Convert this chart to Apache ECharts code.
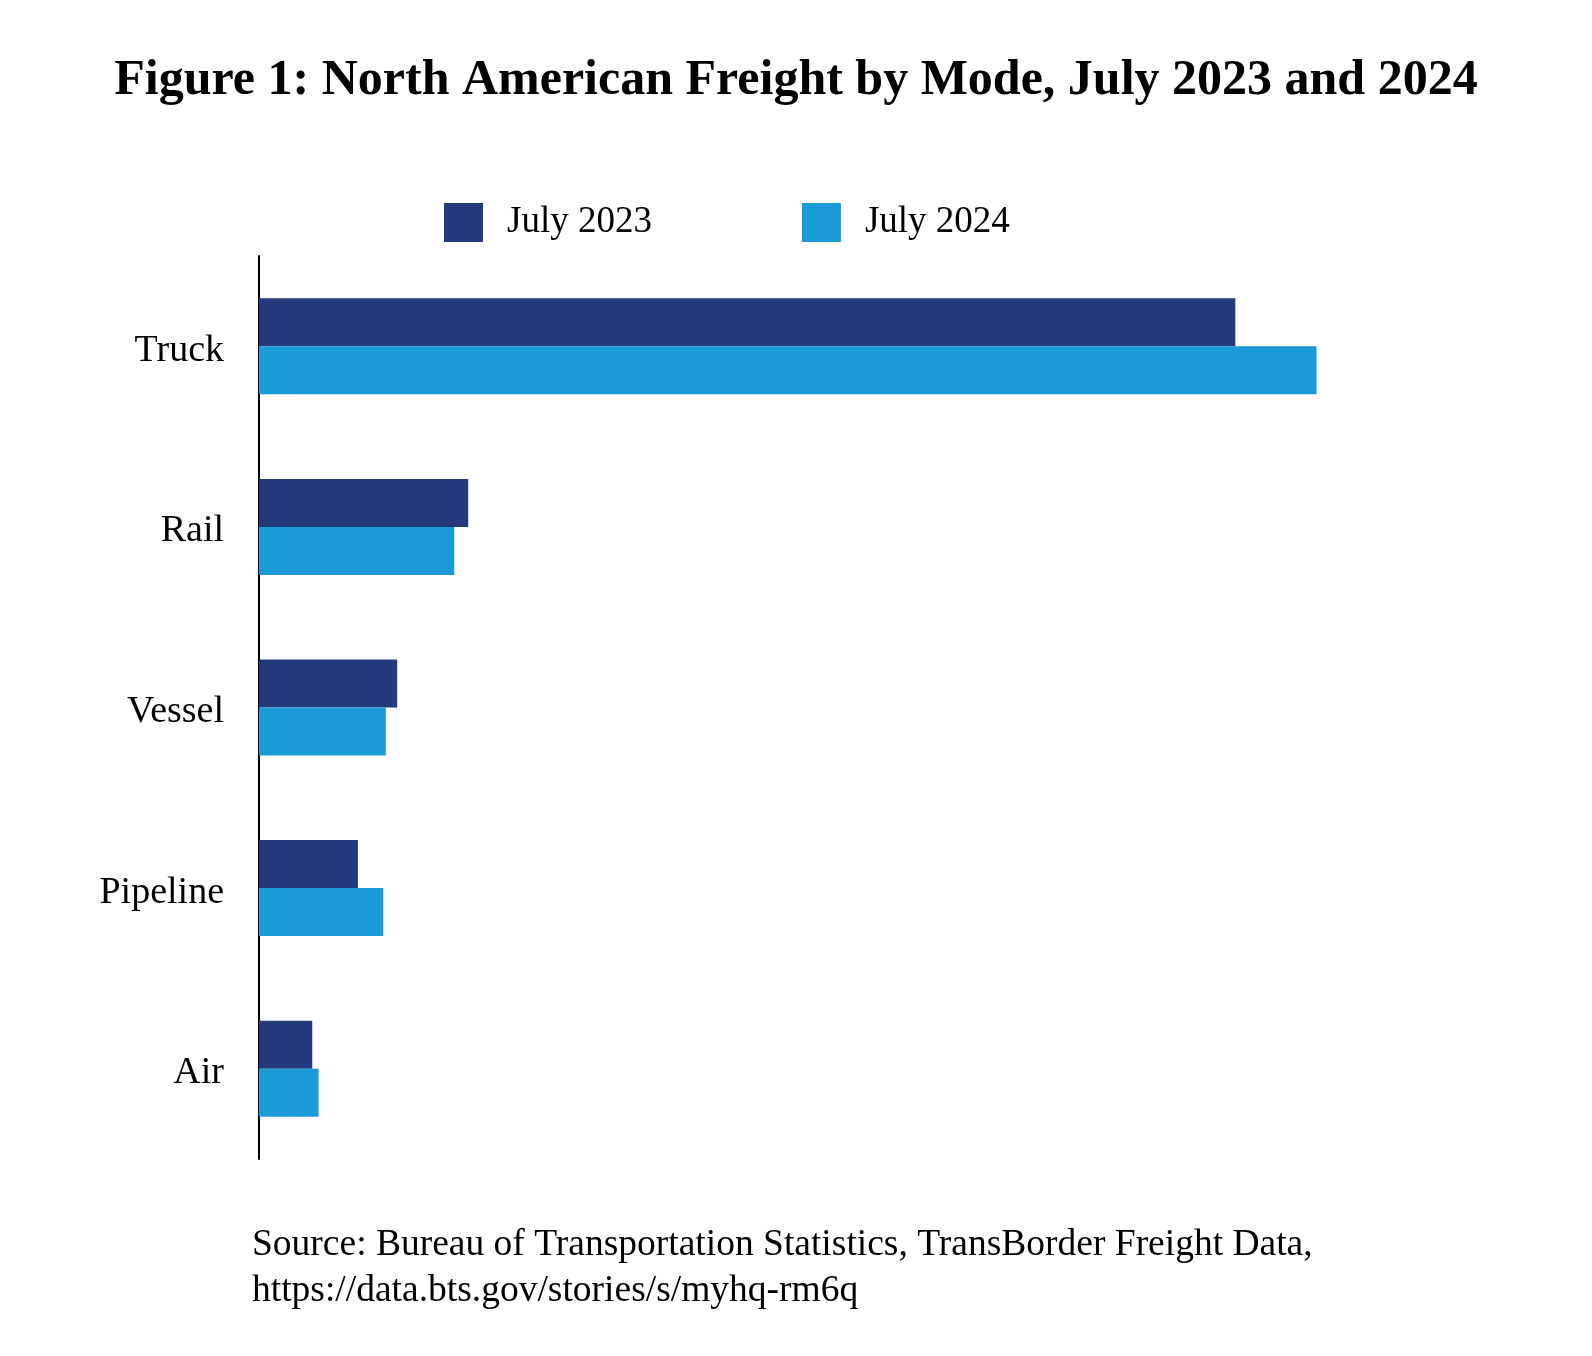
<!DOCTYPE html>
<html>
<head>
<meta charset="utf-8" />
<title>North American Freight by Mode</title>
<script type="text/javascript" src="https://cdn.jsdelivr.net/npm/echarts@6/dist/echarts.min.js"></script>
<style>
	html, body { margin: 0; padding: 0; background: #fff; }
</style>
</head>
<body>
	<div id="chartmain" style="width: 1592px; height: 1356px;"></div>
	<script type="text/javascript">
		// modes and values (billions of dollars)
		var modes = [ 'Truck', 'Rail', 'Vessel', 'Pipeline', 'Air' ];
		var july2023 = [ 77.0, 16.5, 10.9, 7.8, 4.2 ];
		var july2024 = [ 83.4, 15.4, 10.0, 9.8, 4.7 ];
		var seriesNames = [ 'July 2023', 'July 2024' ];

		var font = 'Liberation Serif';

		var option = {
			backgroundColor : '#fff',
			animation : false,
			title : {
				text : 'Figure 1: North American Freight by Mode, July 2023 and 2024',
				left : 'center',
				top : 51,
				textStyle : {
					fontFamily : font,
					fontSize : 50,
					fontWeight : 'bold',
					color : '#000'
				}
			},
			legend : {
				data : seriesNames,
				left : 439,
				top : 198,
				itemWidth : 39,
				itemHeight : 39,
				itemGap : 150,
				icon : 'rect',
				textStyle : {
					fontFamily : font,
					fontSize : 37,
					color : '#000',
					padding : [ 0, 0, 0, 19 ]
				}
			},
			grid : {
				left : 259,
				right : 65,
				top : 256,
				height : 903
			},
			xAxis : {
				type : 'value',
				min : 0,
				max : 100,
				show : false,
				splitLine : { show : false }
			},
			yAxis : {
				type : 'category',
				data : modes,
				inverse : true,
				axisLine : { show : true, lineStyle : { color : '#000', width : 2 } },
				axisTick : { show : false },
				axisLabel : {
					margin : 35,
					formatter : function (v) { return '{m|' + v + '}'; },
					rich : {
						m : {
							fontFamily : font,
							fontSize : 38,
							color : '#000',
							padding : [ 9, 0, 0, 0 ]
						}
					}
				}
			},
			series : [ {
				name : seriesNames[0],
				type : 'bar',
				data : july2023,
				barWidth : 48,
				barGap : '0%',
				itemStyle : { color : '#243a7d' }
			}, {
				name : seriesNames[1],
				type : 'bar',
				data : july2024,
				barWidth : 48,
				barGap : '0%',
				itemStyle : { color : '#1a9ad6' }
			} ],
			graphic : [ {
				type : 'text',
				left : 252,
				top : 1222,
				style : {
					text : 'Source: Bureau of Transportation Statistics, TransBorder Freight Data,\nhttps://data.bts.gov/stories/s/myhq-rm6q',
					fontFamily : font,
					fontSize : 37.5,
					lineHeight : 46,
					fill : '#000'
				}
			} ]
		};

		var myChart = echarts.init(document.getElementById('chartmain'));
		myChart.setOption(option);
	</script>
</body>
</html>
